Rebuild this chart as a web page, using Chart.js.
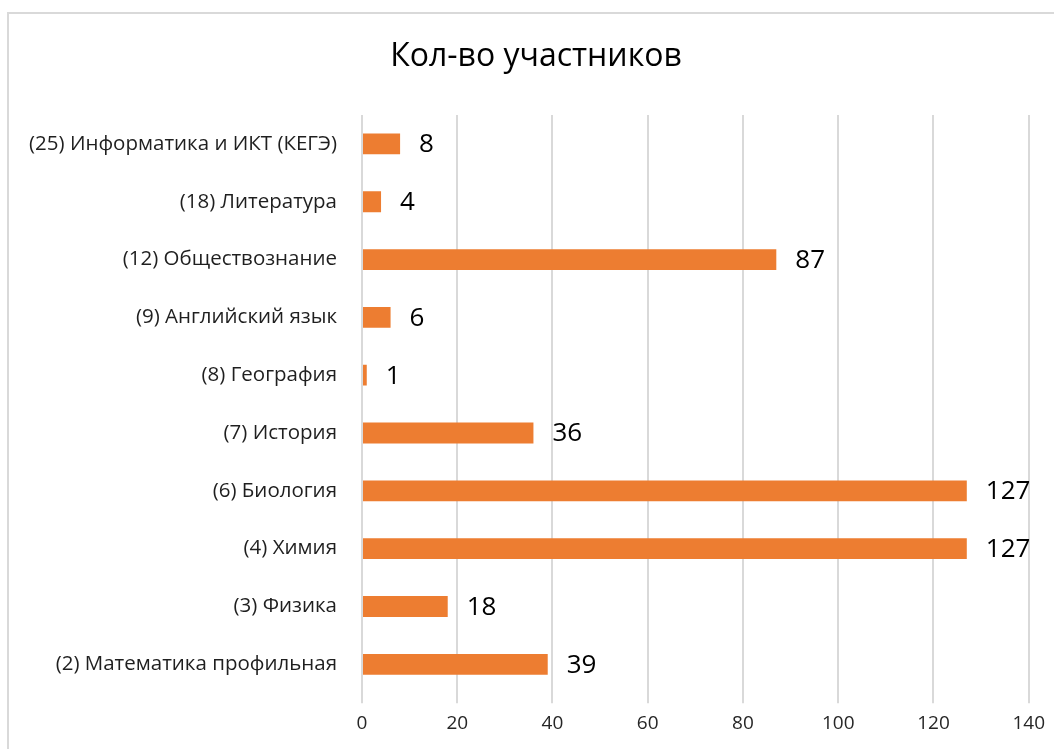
<!DOCTYPE html>
<html>
<head>
<meta charset="utf-8">
<script src="https://cdn.jsdelivr.net/npm/chart.js@4/dist/chart.umd.min.js"></script>
<style>
  html, body { margin: 0; padding: 0; background: #fff; }
  #wrap { width: 1054px; height: 749px; position: relative; }
</style>
</head>
<body>
<div id="wrap"><canvas id="c"></canvas></div>
<script>
(function () {
  "use strict";

  var title = "Кол-во участников";
  var categories = [
    "(25) Информатика и ИКТ (КЕГЭ)",
    "(18) Литература",
    "(12) Обществознание",
    "(9) Английский язык",
    "(8) География",
    "(7) История",
    "(6) Биология",
    "(4) Химия",
    "(3) Физика",
    "(2) Математика профильная"
  ];
  var participants = [8, 4, 87, 6, 1, 36, 127, 127, 18, 39];
  var xTicks = [0, 20, 40, 60, 80, 100, 120, 140];

  var FONT = "'Open Sans', 'Noto Sans', sans-serif";

  // frame + title, placed like the office export
  var framePlugin = {
    id: "frame",
    beforeDraw: function (chart) {
      var ctx = chart.ctx;
      ctx.save();
      ctx.strokeStyle = "#d9d9d9";
      ctx.lineWidth = 2;
      ctx.strokeRect(8, 13, 1200, 900);
      ctx.font = "32px " + FONT;
      ctx.fillStyle = "#000";
      ctx.textAlign = "center";
      ctx.textBaseline = "middle";
      ctx.fillText(title, 536, 57);
      ctx.restore();
    }
  };

  // value labels at the end of each bar
  var valueLabels = {
    id: "valueLabels",
    afterDatasetsDraw: function (chart) {
      var ctx = chart.ctx;
      var meta = chart.getDatasetMeta(0);
      ctx.save();
      ctx.font = "26px " + FONT;
      ctx.fillStyle = "#000";
      ctx.textAlign = "left";
      ctx.textBaseline = "middle";
      meta.data.forEach(function (bar, i) {
        ctx.fillText(String(participants[i]), bar.x + 19, bar.y + 1);
      });
      ctx.restore();
    }
  };

  new Chart(document.getElementById("c"), {
    type: "bar",
    data: {
      labels: categories,
      datasets: [{
        data: participants,
        backgroundColor: "#ed7d31",
        borderWidth: 0,
        categoryPercentage: 1,
        barPercentage: 0.36
      }]
    },
    options: {
      indexAxis: "y",
      responsive: true,
      maintainAspectRatio: false,
      animation: false,
      layout: { padding: { left: 0, right: 22, top: 115, bottom: 5 } },
      scales: {
        x: {
          min: 0,
          max: 140,
          afterBuildTicks: function (s) {
            s.ticks = xTicks.map(function (v) { return { value: v }; });
          },
          grid: { color: "#d9d9d9", lineWidth: 2, tickLength: 10, drawTicks: true },
          border: { display: false },
          ticks: {
            color: "#262626",
            font: { family: FONT, size: 19 },
            padding: 9
          }
        },
        y: {
          grid: { display: false },
          border: { display: false },
          afterFit: function (s) { s.width = 362; },
          ticks: {
            color: "#1f1f1f",
            font: { family: FONT, size: 20.5 },
            padding: 17
          }
        }
      },
      plugins: {
        legend: { display: false },
        tooltip: { enabled: false },
        title: { display: false }
      }
    },
    plugins: [framePlugin, valueLabels]
  });
})();
</script>
</body>
</html>
